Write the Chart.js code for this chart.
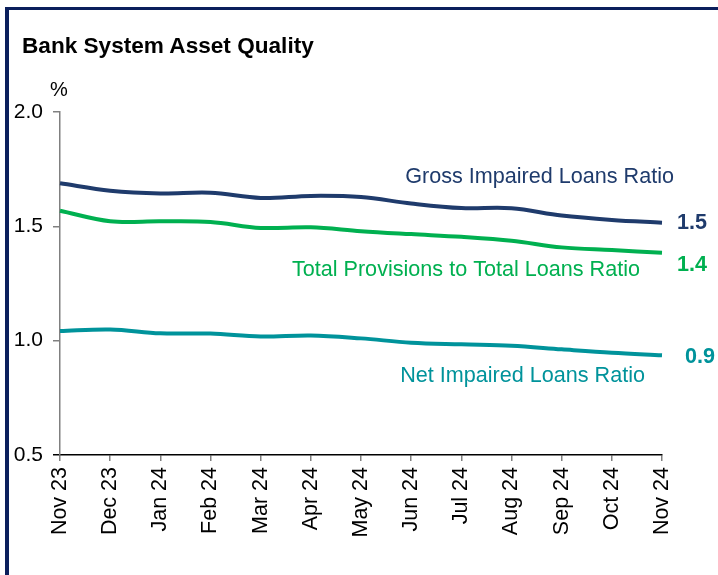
<!DOCTYPE html>
<html>
<head>
<meta charset="utf-8">
<script src="https://cdn.jsdelivr.net/npm/chart.js@4.4.1/dist/chart.umd.min.js"></script>
<style>
  body { margin: 0; background: #fff; }
  #wrap { position: relative; width: 718px; height: 575px; overflow: hidden; font-family: "Liberation Sans", Arial, sans-serif; }
  #frame { position: absolute; left: 5px; top: 7px; right: 0; bottom: -10px; border-left: 4px solid #0b1f5c; border-top: 3px solid #0b1f5c; }
  #title { position: absolute; left: 22px; top: 33px; font-size: 22.6px; font-weight: bold; color: #000; }
  #unit { position: absolute; left: 50px; top: 78px; font-size: 20px; color: #000; }
  canvas { position: absolute; left: 0; top: 0; }
</style>
</head>
<body>
<div id="wrap">
  <canvas id="assetChart" width="718" height="575"></canvas>
  <div id="frame"></div>
  <div id="title">Bank System Asset Quality</div>
  <div id="unit">%</div>
</div>
<script>
// months shown on the x axis
let months = ["Nov 23", "Dec 23", "Jan 24", "Feb 24", "Mar 24", "Apr 24", "May 24",
              "Jun 24", "Jul 24", "Aug 24", "Sep 24", "Oct 24", "Nov 24"];

// ratios in %
let grossImpaired = [1.688, 1.656, 1.644, 1.647, 1.624, 1.633, 1.628, 1.600, 1.580, 1.579, 1.547, 1.528, 1.516];
let totalProvisions = [1.568, 1.522, 1.522, 1.519, 1.493, 1.496, 1.479, 1.466, 1.454, 1.437, 1.408, 1.396, 1.384];
let netImpaired = [1.042, 1.049, 1.032, 1.031, 1.018, 1.023, 1.010, 0.991, 0.984, 0.978, 0.962, 0.947, 0.936];

let yTicks = [0.5, 1.0, 1.5, 2.0];
let endLabels = ["1.5", "1.4", "0.9"];

let navy = '#1f3b6c';
let green = '#00b050';
let teal = '#00939b';
let fontFamily = '"Liberation Sans", Arial, sans-serif';

// text written next to the lines (value space positions)
let lineLabels = [
  { text: "Gross Impaired Loans Ratio", color: navy, dx: 12, y: 1.716, align: 'right', bold: false },
  { text: "Total Provisions to Total Loans Ratio", color: green, dx: -22, y: 1.309, align: 'right', bold: false },
  { text: "Net Impaired Loans Ratio", color: teal, dx: -17, y: 0.845, align: 'right', bold: false },
  { text: endLabels[0], color: navy, dx: 15, y: 1.516, align: 'left', bold: true },
  { text: endLabels[1], color: green, dx: 15, y: 1.331, align: 'left', bold: true },
  { text: endLabels[2], color: teal, dx: 23, y: 0.928, align: 'left', bold: true }
];

let labelPlugin = {
  id: 'lineLabels',
  afterDatasetsDraw(chart) {
    let ctx = chart.ctx;
    let xs = chart.scales.x;
    let ys = chart.scales.y;
    let lastX = xs.getPixelForValue(months.length - 1);
    ctx.save();
    ctx.textBaseline = 'middle';
    lineLabels.forEach(lb => {
      ctx.font = (lb.bold ? 'bold ' : '') + '21.6px ' + fontFamily;
      ctx.fillStyle = lb.color;
      ctx.textAlign = lb.align;
      ctx.fillText(lb.text, lastX + lb.dx, ys.getPixelForValue(lb.y));
    });
    ctx.restore();
  }
};

let makeSet = (label, data, color) => ({
  label: label,
  data: data,
  borderColor: color,
  backgroundColor: color,
  borderWidth: 4,
  pointRadius: 0,
  fill: false,
  tension: 0.35
});

const ctx = document.getElementById('assetChart').getContext('2d');

new Chart(ctx, {
  type: 'line',
  data: {
    labels: months,
    datasets: [
      makeSet('Gross Impaired Loans Ratio', grossImpaired, navy),
      makeSet('Total Provisions to Total Loans Ratio', totalProvisions, green),
      makeSet('Net Impaired Loans Ratio', netImpaired, teal)
    ]
  },
  options: {
    responsive: false,
    animation: false,
    devicePixelRatio: 1,
    layout: { padding: { top: 112, right: 56, left: 0, bottom: 0 } },
    plugins: {
      legend: { display: false },
      tooltip: { enabled: false }
    },
    scales: {
      x: {
        offset: false,
        afterFit: scale => { scale.height = 120; },
        border: { color: '#000', width: 1.5 },
        grid: { drawOnChartArea: false, drawTicks: true, tickLength: 6, color: '#808080', lineWidth: 1.5 },
        ticks: {
          color: '#000',
          font: { family: fontFamily, size: 21.5 },
          minRotation: 90,
          maxRotation: 90,
          autoSkip: false,
          padding: 6
        }
      },
      y: {
        min: yTicks[0],
        max: yTicks[yTicks.length - 1],
        afterFit: scale => { scale.width = 60; },
        afterBuildTicks: scale => { scale.ticks = yTicks.map(v => ({ value: v })); },
        border: { color: '#808080', width: 1.5 },
        grid: {
          drawOnChartArea: false,
          drawTicks: true,
          tickLength: 7,
          lineWidth: 1.5,
          color: c => (c.tick && c.tick.value === yTicks[0]) ? '#000' : '#808080'
        },
        ticks: {
          color: '#000',
          font: { family: fontFamily, size: 21 },
          padding: 10,
          callback: v => Number(v).toFixed(1)
        }
      }
    }
  },
  plugins: [labelPlugin]
});
</script>
</body>
</html>
